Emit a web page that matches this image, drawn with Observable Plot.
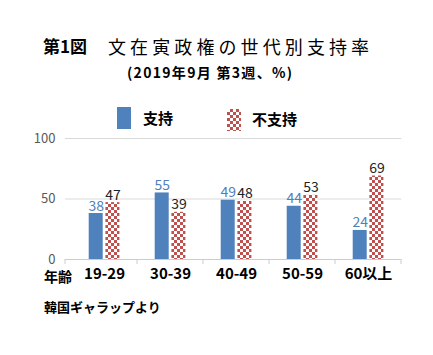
<!DOCTYPE html>
<html><head><meta charset="utf-8">
<script src="https://cdn.jsdelivr.net/npm/d3@7"></script>
<script src="https://cdn.jsdelivr.net/npm/@observablehq/plot@0.6"></script>
<style>
html,body{margin:0;padding:0;background:#fff;}
#wrap{position:relative;width:433px;height:355px;overflow:hidden;font-family:"Noto Sans CJK JP","Noto Sans",sans-serif;}
.t{position:absolute;white-space:nowrap;line-height:1;color:#000;}
#chart{position:absolute;left:0;top:0;}
.sw{position:absolute;width:14px;height:22px;}
</style></head>
<body><div id="wrap">
<div id="chart"></div>
<div class="t" style="left:43px;top:37px;font-size:17px;font-weight:bold;">第1図</div>
<div class="t" style="left:108px;top:37px;font-size:18px;letter-spacing:4.1px;">文在寅政権の世代別支持率</div>
<div class="t" style="left:127px;top:65px;font-size:14px;font-weight:bold;letter-spacing:1.3px;">(2019年9月 第3週、%)</div>
<div class="sw" style="left:117px;top:107px;background:#4f81bd;"></div>
<div class="t" style="left:143px;top:110px;font-size:15px;font-weight:bold;">支持</div>
<div class="sw" style="left:227px;top:109px;background:repeating-conic-gradient(#c0504d 0 25%,#fff 0 50%) 0 0/6px 6px;"></div>
<div class="t" style="left:252px;top:111px;font-size:15px;font-weight:bold;">不支持</div>
<div class="t" style="left:44px;top:269px;font-size:14px;font-weight:bold;">年齢</div>
<div class="t" style="left:44px;top:300px;font-size:13px;font-weight:bold;">韓国ギャラップより</div>
</div>
<script>
const ages = ["19-29", "30-39", "40-49", "50-59", "60以上"];
const support = [38, 55, 49, 44, 24];
const oppose = [47, 39, 48, 53, 69];
const yTicks = [0, 50, 100];
const gridValues = [50, 100];

const supportRows = ages.map((a, i) => ({age: a, value: support[i]}));
const opposeRows = ages.map((a, i) => ({age: a, value: oppose[i]}));

const FONT = '"Noto Sans CJK JP","Noto Sans",sans-serif';

const plot = Plot.plot({
  width: 433,
  height: 355,
  marginLeft: 65,
  marginRight: 31.7,
  marginTop: 138,
  marginBottom: 96,
  style: {fontFamily: FONT, background: "transparent", overflow: "visible"},
  x: {type: "band", domain: ages, range: [71.3, 401.3], padding: 0, axis: null},
  y: {domain: [0, 100], axis: null},
  marks: [
    Plot.ruleY(gridValues, {stroke: "#d9d9d9", strokeWidth: 1}),
    Plot.ruleY([0], {stroke: "#cccccc", strokeWidth: 1}),
    Plot.axisY(yTicks, {label: null, tickSize: 0, tickPadding: 10, fontSize: 13, fill: "#595959", textAnchor: "end"}),
    Plot.axisX(ages, {label: null, tickSize: 0, tickPadding: 9, fontSize: 15, fontWeight: "bold", fill: "#000"}),
    Plot.barY(supportRows, {x: "age", y: "value", fill: "#4f81bd", insetLeft: 17.7, insetRight: 34.3}),
    Plot.barY(opposeRows, {x: "age", y: "value", fill: "url(#checker)", insetLeft: 34.4, insetRight: 17.6}),
    Plot.text(supportRows, {x: "age", y: "value", text: d => String(d.value), dx: -8.3, dy: -3, lineAnchor: "bottom", fontSize: 14, fill: "#4f81bd"}),
    Plot.text(opposeRows, {x: "age", y: "value", text: d => String(d.value), dx: 8.4, dy: -3, lineAnchor: "bottom", fontSize: 14, fill: "#222"})
  ]
});

const svg = d3.select(plot);
const defs = svg.insert("defs", ":first-child");
const pat = defs.append("pattern").attr("id", "checker").attr("patternUnits", "userSpaceOnUse")
  .attr("width", 6).attr("height", 6);
pat.append("rect").attr("width", 6).attr("height", 6).attr("fill", "#fff");
pat.append("rect").attr("width", 3).attr("height", 3).attr("fill", "#c0504d");
pat.append("rect").attr("x", 3).attr("y", 3).attr("width", 3).attr("height", 3).attr("fill", "#c0504d");

// category separator ticks below the base line, from the plot's own x scale
const xs = plot.scale("x");
const ys = plot.scale("y");
const bw = xs.bandwidth;
const y0 = ys.apply(0);
const edges = [65].concat(ages.map(a => xs.apply(a) + bw));
const g = svg.append("g").attr("stroke", "#cccccc");
edges.forEach(x => g.append("line").attr("x1", x).attr("x2", x).attr("y1", y0).attr("y2", y0 + 5));

document.getElementById("chart").appendChild(plot);
</script>
</body></html>
